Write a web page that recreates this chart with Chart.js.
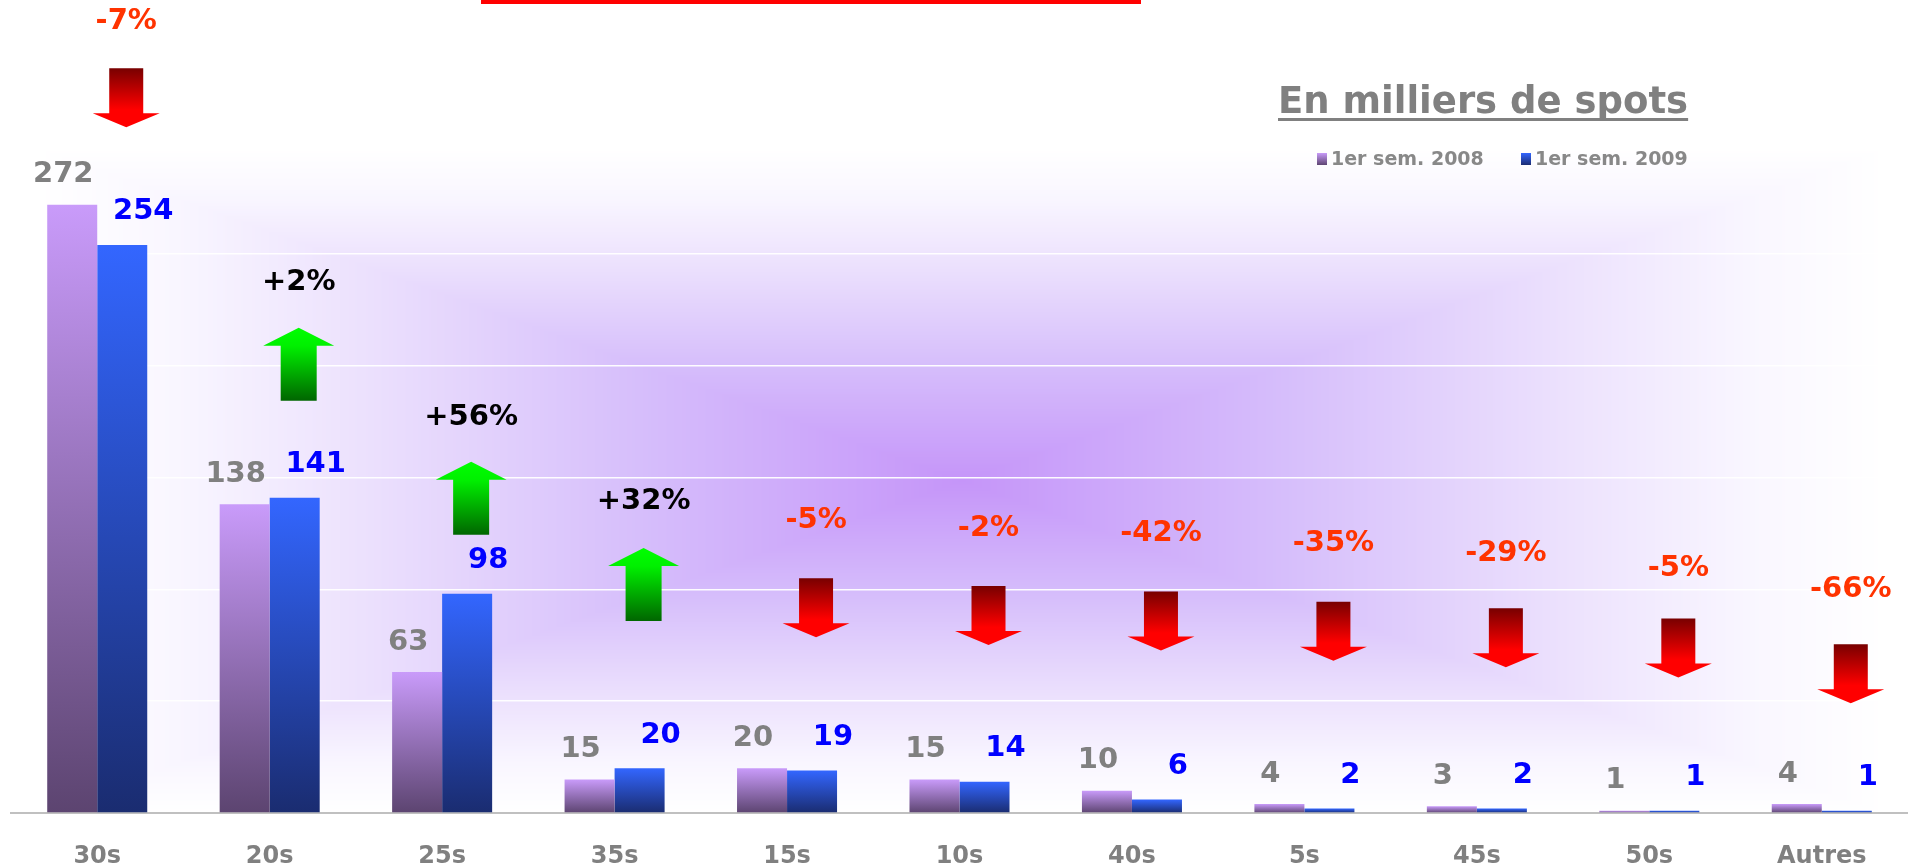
<!DOCTYPE html>
<html lang="fr">
<head>
  <meta charset="UTF-8">
  <title>Spots par format</title>
  <style>
    html, body { margin: 0; padding: 0; background: #fff; }
    #graf { display: block; }
  </style>
</head>
<body>
<canvas id="graf" width="1908" height="867"></canvas>
<script src="https://cdn.jsdelivr.net/npm/chart.js"></script>
<script>
    // Données
    const formats = ["30s", "20s", "25s", "35s", "15s", "10s", "40s", "5s", "45s", "50s", "Autres"];
    const sem2008 = [272, 138, 63, 15, 20, 15, 10, 4, 3, 1, 4];
    const sem2009 = [254, 141, 98, 20, 19, 14, 6, 2, 2, 1, 1];
    const evolutions = ["-7%", "+2%", "+56%", "+32%", "-5%", "-2%", "-42%", "-35%", "-29%", "-5%", "-66%"];
    const libelles = ["1er sem. 2008", "1er sem. 2009"];

    const police = "'DejaVu Sans', Verdana, sans-serif";

    function degradeBarre(ctx, haut, bas) {
        const chart = ctx.chart;
        if (!chart.chartArea || ctx.raw === undefined) return haut;
        const y = chart.scales.y;
        const y1 = y.getPixelForValue(ctx.raw);
        const y0 = y.getPixelForValue(0);
        if (!isFinite(y1) || !isFinite(y0) || y0 - y1 < 1) return haut;
        const g = chart.ctx.createLinearGradient(0, y1, 0, y0);
        g.addColorStop(0, haut);
        g.addColorStop(1, bas);
        return g;
    }

    // fond en dégradé "rectangle" (comme PowerPoint)
    const fond = {
        id: "fond",
        beforeDraw(chart) {
            const a = chart.chartArea;
            const x0 = Math.round(a.left + 27), x1 = Math.round(a.right - 23);
            const y0 = Math.round(a.top + 6), y1 = Math.round(a.bottom);
            const w = x1 - x0, h = y1 - y0;
            if (!chart.$fond || chart.$fond.width !== w || chart.$fond.height !== h) {
                const c = document.createElement("canvas");
                c.width = w; c.height = h;
                const cx = c.getContext("2d");
                const img = cx.createImageData(w, h);
                const arrets = [
                    [0, 197, 149, 249],
                    [0.35, 214, 190, 251],
                    [0.65, 236, 225, 253],
                    [0.85, 249, 246, 255],
                    [1, 255, 255, 255]
                ];
                const mx = w / 2, my = h / 2;
                for (let j = 0; j < h; j++) {
                    for (let i = 0; i < w; i++) {
                        const t = Math.min(1, Math.max(Math.abs(i - mx) / mx, Math.abs(j - my) / my));
                        let k = 0;
                        while (k < arrets.length - 2 && t > arrets[k + 1][0]) k++;
                        const p = arrets[k], q = arrets[k + 1];
                        const f = (t - p[0]) / (q[0] - p[0]);
                        const o = (j * w + i) * 4;
                        img.data[o] = p[1] + (q[1] - p[1]) * f;
                        img.data[o + 1] = p[2] + (q[2] - p[2]) * f;
                        img.data[o + 2] = p[3] + (q[3] - p[3]) * f;
                        img.data[o + 3] = 255;
                    }
                }
                cx.putImageData(img, 0, 0);
                chart.$fond = c;
            }
            chart.ctx.drawImage(chart.$fond, x0, y0);
        }
    };

    // valeurs au-dessus des barres
    const valeurs = {
        id: "valeurs",
        afterDatasetsDraw(chart) {
            const ctx = chart.ctx;
            ctx.save();
            ctx.font = "bold 29px " + police;
            ctx.textAlign = "center";
            ctx.textBaseline = "middle";
            chart.data.datasets.forEach((ds, d) => {
                chart.getDatasetMeta(d).data.forEach((barre, i) => {
                    ctx.fillStyle = d === 0 ? "#808080" : "#0000ff";
                    const dx = d === 0 ? -9 : 21;
                    const dy = d === 0 ? 30 : 33;
                    ctx.fillText(String(ds.data[i]), barre.x + dx, barre.y - dy);
                });
            });
            ctx.restore();
        }
    };

    // flèches d'évolution
    const fleches = {
        id: "fleches",
        afterDatasetsDraw(chart, args, opts) {
            const ctx = chart.ctx;
            const meta = chart.getDatasetMeta(1);
            const y = chart.scales.y;
            ctx.save();
            evolutions.forEach((ev, i) => {
                const x = meta.data[i].x + 4;
                const haut = y.getPixelForValue(opts.niveaux[i]);
                const monte = ev.startsWith("+");
                ctx.beginPath();
                if (monte) {
                    ctx.moveTo(x, haut);
                    ctx.lineTo(x + 35.5, haut + 18);
                    ctx.lineTo(x + 18, haut + 18);
                    ctx.lineTo(x + 18, haut + 73);
                    ctx.lineTo(x - 18, haut + 73);
                    ctx.lineTo(x - 18, haut + 18);
                    ctx.lineTo(x - 35.5, haut + 18);
                    const g = ctx.createLinearGradient(0, haut, 0, haut + 73);
                    g.addColorStop(0, "#00ff00");
                    g.addColorStop(0.25, "#00f000");
                    g.addColorStop(1, "#006600");
                    ctx.fillStyle = g;
                } else {
                    ctx.moveTo(x - 17, haut);
                    ctx.lineTo(x + 17, haut);
                    ctx.lineTo(x + 17, haut + 45);
                    ctx.lineTo(x + 33.5, haut + 45);
                    ctx.lineTo(x, haut + 59);
                    ctx.lineTo(x - 33.5, haut + 45);
                    ctx.lineTo(x - 17, haut + 45);
                    const g = ctx.createLinearGradient(0, haut, 0, haut + 59);
                    g.addColorStop(0, "#780000");
                    g.addColorStop(0.7, "#ff0000");
                    g.addColorStop(1, "#ff0000");
                    ctx.fillStyle = g;
                }
                ctx.closePath();
                ctx.fill();

                ctx.font = "bold 29px " + police;
                ctx.textAlign = "center";
                ctx.textBaseline = "middle";
                ctx.fillStyle = monte ? "#000000" : "#ff3300";
                ctx.fillText(ev, x, y.getPixelForValue(opts.niveauxTexte[i]));
            });
            ctx.restore();
        }
    };

    // titre, légende et trait rouge
    const habillage = {
        id: "habillage",
        afterDraw(chart) {
            const ctx = chart.ctx;
            ctx.save();
            ctx.fillStyle = "#ff0000";
            ctx.fillRect(481, 0, 660, 4);

            ctx.font = "bold 37px " + police;
            ctx.fillStyle = "#808080";
            ctx.textAlign = "left";
            ctx.textBaseline = "alphabetic";
            const titre = "En milliers de spots";
            ctx.fillText(titre, 1278, 113);
            const lt = ctx.measureText(titre).width;
            ctx.fillRect(1278, 118, lt, 3);

            const couleurs = [["#c89bf9", "#5e4572"], ["#3366ff", "#1b2c72"]];
            const posX = [1317, 1521];
            ctx.font = "bold 19px " + police;
            ctx.textBaseline = "middle";
            chart.data.datasets.forEach((ds, d) => {
                const g = ctx.createLinearGradient(0, 153, 0, 165);
                g.addColorStop(0, couleurs[d][0]);
                g.addColorStop(1, couleurs[d][1]);
                ctx.fillStyle = g;
                ctx.fillRect(posX[d], 153, 10, 12);
                ctx.fillStyle = "#888888";
                ctx.fillText(ds.label, posX[d] + 14, 160);
            });
            ctx.restore();
        }
    };

    const graf = new Chart(document.getElementById("graf").getContext("2d"), {
        type: "bar",
        data: {
            labels: formats,
            datasets: [
                {
                    label: libelles[0],
                    data: sem2008,
                    backgroundColor: ctx => degradeBarre(ctx, "#c99bfa", "#5c4470")
                },
                {
                    label: libelles[1],
                    data: sem2009,
                    backgroundColor: ctx => degradeBarre(ctx, "#3366ff", "#1a2c70")
                }
            ]
        },
        options: {
            responsive: false,
            animation: false,
            devicePixelRatio: 1,
            categoryPercentage: 0.58,
            barPercentage: 1,
            layout: { padding: { top: 142, left: 11, right: 0, bottom: 0 } },
            plugins: {
                legend: { display: false },
                tooltip: { enabled: false },
                fleches: {
                    niveaux: [333, 217, 157, 118.5, 105, 101.5, 99, 94.5, 91.5, 87, 75.5],
                    niveauxTexte: [354, 237, 177, 139.5, 131, 127, 125.2, 120.7, 116.2, 109.5, 100.1]
                }
            },
            scales: {
                x: {
                    grid: { display: false },
                    border: { display: true, color: "#c0c0c0", width: 2 },
                    ticks: {
                        color: "#808080",
                        font: { family: police, weight: "bold", size: 24 },
                        padding: 21
                    },
                    afterFit(s) { s.height = 54; }
                },
                y: {
                    min: 0,
                    max: 300,
                    ticks: { display: false, stepSize: 50 },
                    grid: {
                        drawTicks: false,
                        lineWidth: 1.5,
                        color: c => (c.tick && c.tick.value > 0 && c.tick.value < 300) ? "rgba(255,255,255,0.95)" : "rgba(0,0,0,0)"
                    },
                    border: { display: false },
                    afterFit(s) { s.width = 0; }
                }
            }
        },
        plugins: [fond, valeurs, fleches, habillage]
    });
</script>
</body>
</html>
